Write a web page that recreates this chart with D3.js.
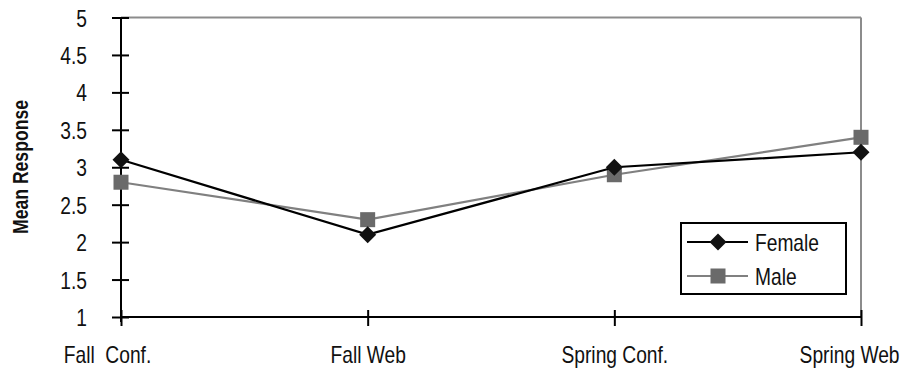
<!DOCTYPE html>
<html>
<head>
<meta charset="utf-8">
<script src="https://cdn.jsdelivr.net/npm/d3@7"></script>
<style>
  html, body { margin: 0; padding: 0; background: #fff; }
  svg { display: block; }
  text { font-family: "Liberation Sans", Arial, sans-serif; fill: #111; }
</style>
</head>
<body>
<svg id="chart" width="900" height="368"></svg>
<script>
// Survey periods along the x axis
const categories = ["Fall  Conf.", "Fall Web", "Spring Conf.", "Spring Web"];
// Mean response per group
const female = [3.1, 2.1, 3.0, 3.2];
const male = [2.8, 2.3, 2.9, 3.4];
const yTicks = [1, 1.5, 2, 2.5, 3, 3.5, 4, 4.5, 5];
const seriesNames = ["Female", "Male"];

const svg = d3.select("#chart");
const W = 900;
const plotLeft = 121, plotRight = 861, plotTop = 17.5, plotBottom = 317;
const NARROW = 0.8;    // horizontal squeeze giving a condensed face
const FONT = 24;

// Condensed text: an outer group positions it, the inner text is squeezed horizontally
function narrowText(parent, x, y, str, anchor, size, weight) {
  const g = parent.append("g").attr("transform", `translate(${x},${y})`);
  const t = g.append("text")
    .attr("transform", `scale(${NARROW},1)`)
    .attr("text-anchor", anchor)
    .style("font-size", size + "px")
    .style("font-weight", weight || "normal")
    .style("white-space", "pre")
    .text(str);
  return { g, t };
}

const x = d3.scalePoint().domain(categories).range([plotLeft, plotRight]);
const y = d3.scaleLinear().domain([1, 5]).range([plotBottom, plotTop]);

// Plot frame: gray top and right edges
svg.append("line").attr("x1", plotLeft).attr("x2", plotRight).attr("y1", plotTop).attr("y2", plotTop)
  .attr("stroke", "#8c8c8c").attr("stroke-width", 2);
svg.append("line").attr("x1", plotRight).attr("x2", plotRight).attr("y1", plotTop).attr("y2", plotBottom)
  .attr("stroke", "#8c8c8c").attr("stroke-width", 2);

// Y axis with ticks crossing the axis line
const yAxis = svg.append("g").attr("transform", `translate(${plotLeft},0)`)
  .call(d3.axisLeft(y).tickValues(yTicks).tickFormat(d3.format("")).tickSize(0).tickPadding(0));
yAxis.select(".domain").remove();
yAxis.selectAll(".tick text").remove();
yAxis.append("line").attr("x1", 0).attr("x2", 0).attr("y1", plotTop).attr("y2", plotBottom + 5)
  .attr("stroke", "#000").attr("stroke-width", 2);
yAxis.selectAll(".tick").append("line")
  .attr("x1", -9).attr("x2", 8).attr("stroke", "#000").attr("stroke-width", 2);
yAxis.selectAll(".tick").each(function (d) {
  narrowText(d3.select(this), -34, 8.5, d3.format("")(d), "end", FONT);
});

// X axis with ticks crossing the axis line
const xAxis = svg.append("g").attr("transform", `translate(0,${plotBottom})`)
  .call(d3.axisBottom(x).tickSize(0));
xAxis.select(".domain").remove();
xAxis.selectAll(".tick text").remove();
xAxis.append("line").attr("x1", plotLeft).attr("x2", plotRight).attr("y1", 0).attr("y2", 0)
  .attr("stroke", "#000").attr("stroke-width", 2);
xAxis.selectAll(".tick").append("line")
  .attr("y1", -7).attr("y2", 9).attr("stroke", "#000").attr("stroke-width", 2);
xAxis.selectAll(".tick").each(function (d, i) {
  // the first label hangs a little to the left of its tick
  const shift = i === 0 ? -14 : 0;
  const lbl = narrowText(d3.select(this), shift, 46, d, "middle", FONT);
  // keep the last label inside the page
  const bb = lbl.t.node().getBBox();
  const halfW = bb.width * NARROW / 2;
  const cx = x(d);
  if (cx + halfW > W - 1) lbl.g.attr("transform", `translate(${W - 1 - halfW - cx},46)`);
});

// Y axis title
const title = svg.append("g").attr("transform", `translate(28,167) rotate(-90)`);
title.append("text")
  .attr("transform", `scale(${NARROW},1)`)
  .attr("text-anchor", "middle")
  .style("font-size", "22px").style("font-weight", "bold")
  .text("Mean Response");

const line = d3.line().x((d, i) => x(categories[i])).y(d => y(d));

// Male series (gray, square markers)
svg.append("path").datum(male).attr("d", line)
  .attr("fill", "none").attr("stroke", "#808080").attr("stroke-width", 2.2);
svg.selectAll(".male-pt").data(male).enter().append("rect")
  .attr("class", "male-pt")
  .attr("x", (d, i) => x(categories[i]) - 7.5).attr("y", d => y(d) - 7.5)
  .attr("width", 15).attr("height", 15).attr("fill", "#6a6a6a");

// Female series (black, diamond markers)
svg.append("path").datum(female).attr("d", line)
  .attr("fill", "none").attr("stroke", "#000").attr("stroke-width", 2.2);
const diamond = "M0,-8.5L8.5,0L0,8.5L-8.5,0Z";
svg.selectAll(".female-pt").data(female).enter().append("path")
  .attr("class", "female-pt")
  .attr("transform", (d, i) => `translate(${x(categories[i])},${y(d)})`)
  .attr("d", diamond).attr("fill", "#111");

// Legend
const lg = svg.append("g");
lg.append("rect").attr("x", 681).attr("y", 223).attr("width", 165).attr("height", 71)
  .attr("fill", "#fff").attr("stroke", "#000").attr("stroke-width", 2);
const rows = [
  { name: seriesNames[0], y: 242, color: "#000" },
  { name: seriesNames[1], y: 276, color: "#808080" }
];
rows.forEach((r, i) => {
  lg.append("line").attr("x1", 687).attr("x2", 748).attr("y1", r.y).attr("y2", r.y)
    .attr("stroke", r.color).attr("stroke-width", 2.2);
  if (i === 0) {
    lg.append("path").attr("transform", `translate(718,${r.y})`).attr("d", diamond).attr("fill", "#111");
  } else {
    lg.append("rect").attr("x", 718 - 7.5).attr("y", r.y - 7.5).attr("width", 15).attr("height", 15)
      .attr("fill", "#6a6a6a");
  }
  narrowText(lg, 755, r.y + 9, r.name, "start", FONT);
});
</script>
</body>
</html>
